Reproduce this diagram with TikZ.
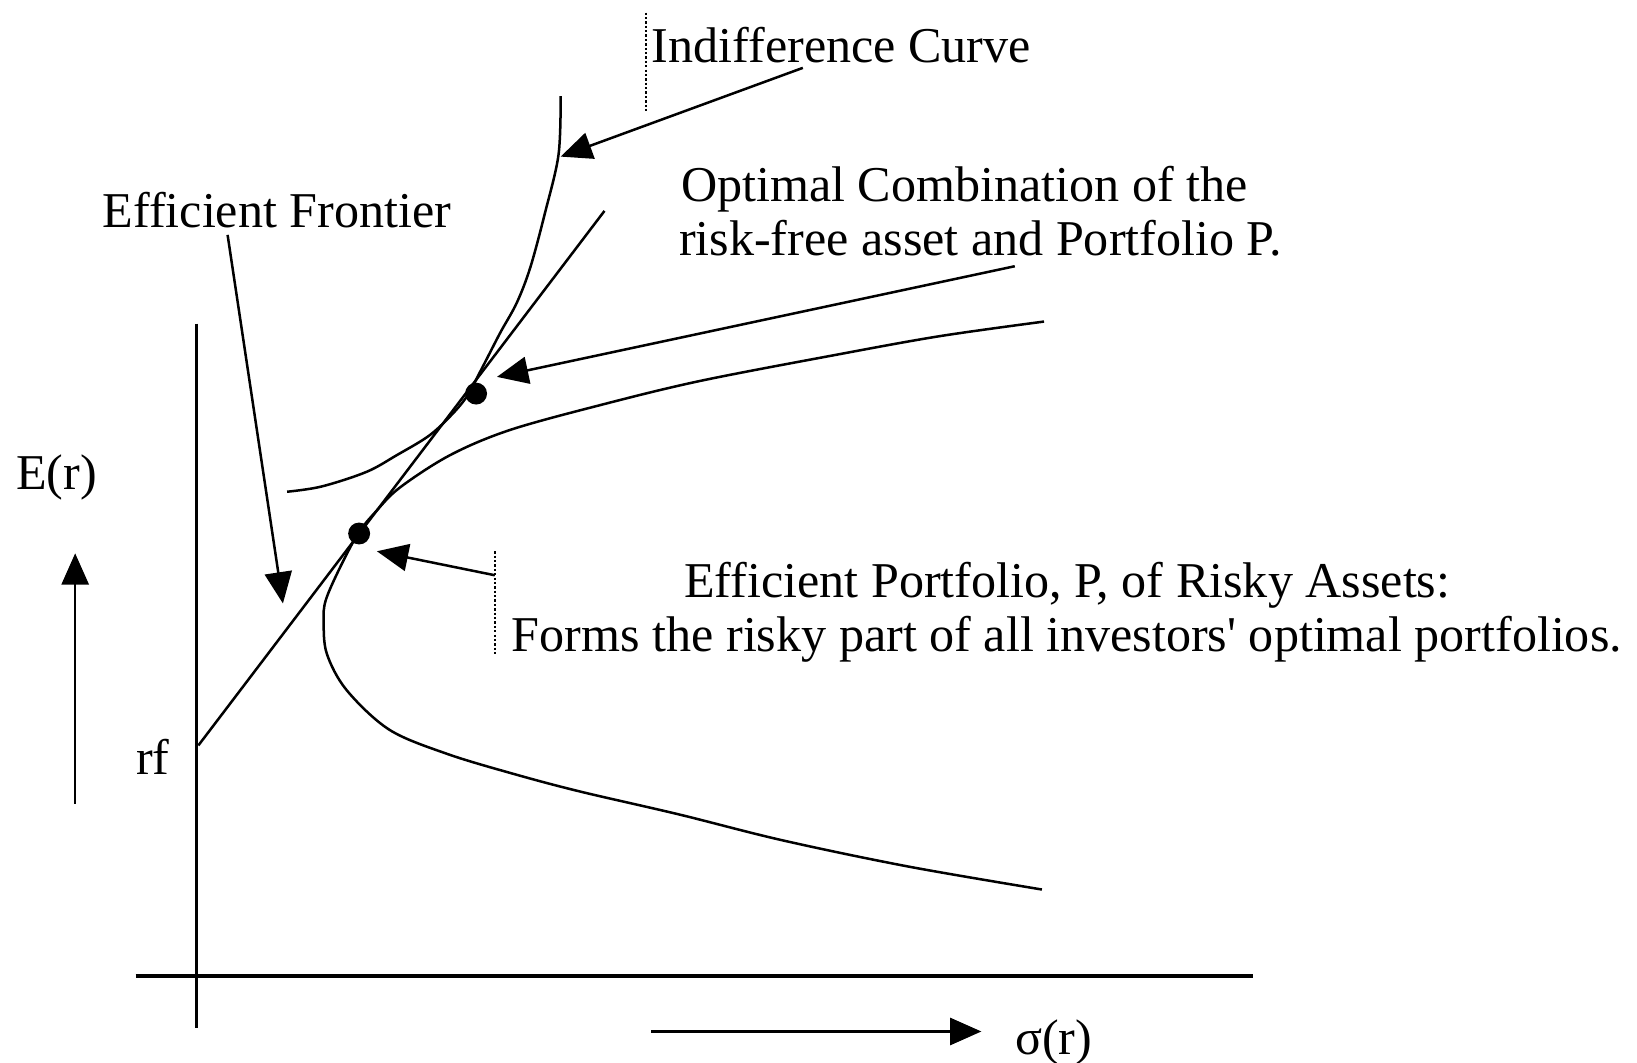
\documentclass[tikz,border=0pt]{standalone}
\usepackage{fontspec}
\setmainfont{Liberation Serif}
\usetikzlibrary{arrows.meta}
\begin{document}
\begin{tikzpicture}[x=0.5pt,y=-0.5pt,
  lab/.style={anchor=base west, inner sep=0pt, font=\fontsize{24}{28}\selectfont},
  curve/.style={line width=1.2pt},
  axis/.style={line width=1.6pt},
  pointer/.style={line width=1.2pt, -{Triangle[length=15pt,width=13pt]}},
  guide/.style={line width=1.1pt, densely dotted},
  dotmark/.style={circle, fill=black, inner sep=0pt, minimum size=10.5pt}
]
\useasboundingbox (0,0) rectangle (1568,1018);

% axes
\coordinate (ytop) at (188,310);
\coordinate (ybot) at (188,985);
\coordinate (xl) at (130,935);
\coordinate (xr) at (1200,935);
\draw[axis] (ytop) -- (ybot);
\draw[axis] (xl) -- (xr);

% axis direction arrows
\coordinate (ea0) at (72,770);
\coordinate (ea1) at (72,530);
\draw[pointer] (ea0) -- (ea1);
\coordinate (sa0) at (624,988);
\coordinate (sa1) at (940,988);
\draw[pointer] (sa0) -- (sa1);

% labels
\node[lab] (er) at (15,469) {E(r)};
\node[lab] (rf) at (130,742) {rf};
\node[lab] (sr) at (972,1010) {σ(r)};
\node[lab] (ind) at (624,60) {Indifference Curve};
\node[lab] (opt1) at (652,193) {Optimal Combination of the};
\node[lab] (opt2) at (650,245) {risk-free asset and Portfolio P.};
\node[lab] (ef) at (98,218) {Efficient Frontier};
\node[lab] (ep1) at (655,572) {Efficient Portfolio, P, of Risky Assets:};
\node[lab] (ep2) at (490,624) {Forms the risky part of all investors\textquotesingle\ optimal portfolios.};

% capital allocation line
\coordinate (rfpt) at (190,714);
\coordinate (cal) at (579,202);
\draw[curve] (rfpt) -- (cal);

% indifference curve
\draw[curve] plot[smooth, tension=0.55] coordinates {
  (537,92) (535,148) (522,204) (508,256) (495,290) (479,319) (462,352)
  (447,380) (430,400) (410,418) (380,436) (351,452) (308,466) (275,471)};

% efficient frontier
\draw[curve] plot[smooth, tension=0.55] coordinates {
  (1000,308) (900,322) (800,340) (670,365) (575,388) (488,412) (431,436)
  (383,467) (360,490) (343,511) (325,545) (312,575) (310,595) (313,626)
  (332,661) (373,699) (428,722) (491,741) (555,758) (650,780) (750,805)
  (870,830) (998,852)};

% points
\node[dotmark] (P) at (344,511) {};
\node[dotmark] (C) at (456,377) {};

% guide dotted lines
\coordinate (g1a) at (619,12);
\coordinate (g1b) at (619,108);
\draw[guide] (g1a) -- (g1b);
\coordinate (g2a) at (474,528);
\coordinate (g2b) at (474,627);
\draw[guide] (g2a) -- (g2b);

% pointers
\coordinate (ia) at (769,65);
\coordinate (ib) at (537,150);
\draw[pointer] (ia) -- (ib);
\coordinate (oa) at (972,255);
\coordinate (ob) at (476,361);
\draw[pointer] (oa) -- (ob);
\coordinate (fa) at (218,225);
\coordinate (fb) at (271,578);
\draw[pointer] (fa) -- (fb);
\coordinate (pa) at (474,551);
\coordinate (pb) at (361,528);
\draw[pointer] (pa) -- (pb);
\end{tikzpicture}
\end{document}
